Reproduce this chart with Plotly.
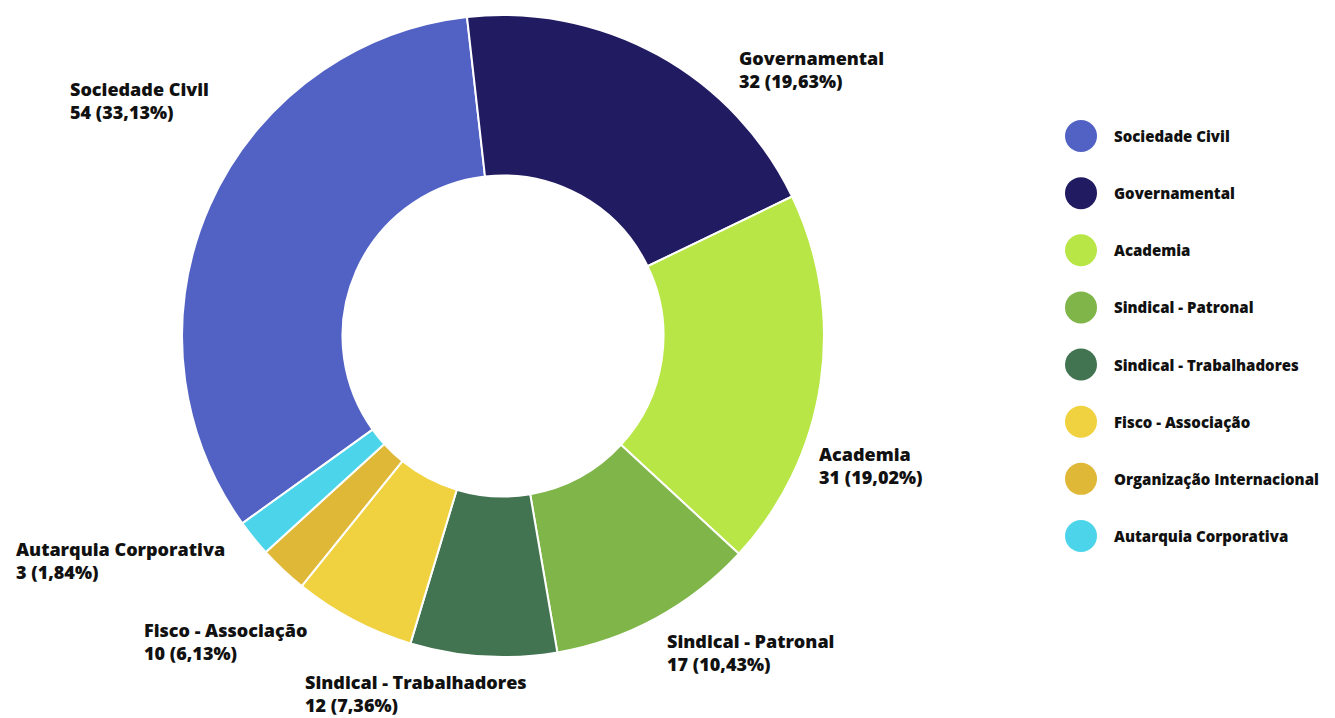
import plotly.graph_objects as go

# Participantes por segmento
categorias = [
    "Sociedade Civil",
    "Governamental",
    "Academia",
    "Sindical - Patronal",
    "Sindical - Trabalhadores",
    "Fisco - Associação",
    "Organização Internacional",
    "Autarquia Corporativa",
]
quantidades = [54, 32, 31, 17, 12, 10, 4, 3]
cores = ["#5262C4", "#211C62", "#B8E646", "#80B54A", "#427451", "#F0D240", "#DFB838", "#4CD5EA"]

# Label anchors (pixel coords of the left edge / block middle); None hides a label
label_pos = [
    (68, 101), (737, 69), (817, 465), (665, 652),
    (303, 693), (142, 641), None, (14, 560),
]

W, H = 1335, 718
FONT = "Open Sans"

total = sum(quantidades)


def fmt_pct(v):
    return f"{v / total * 100:.2f}".replace(".", ",")


fig = go.Figure()

fig.add_trace(go.Pie(
    labels=categorias,
    values=quantidades,
    marker=dict(colors=cores, line=dict(color="white", width=2)),
    hole=0.5,
    sort=False,
    direction="clockwise",
    rotation=234.3,
    textinfo="none",
    hoverinfo="label+value+percent",
    showlegend=False,
    domain=dict(x=[(503 - 321) / W, (503 + 321) / W], y=[(H - 336 - 321) / H, (H - 336 + 321) / H]),
))

annotations = []
for cat, val, pos in zip(categorias, quantidades, label_pos):
    if pos is None:
        continue
    px, py = pos
    annotations.append(dict(
        x=px / W, y=1 - py / H, xref="paper", yref="paper",
        xanchor="left", yanchor="middle", align="left", showarrow=False,
        text=f"{cat}<br>{val} ({fmt_pct(val)}%)",
        font=dict(family=FONT, size=18, color="#111111", weight=800),
    ))

# Custom legend: big circle markers plus names
idx = list(range(len(categorias)))
step = 57.14
y_top = 136
fig.add_trace(go.Scatter(
    x=[0] * len(categorias), y=idx, mode="markers",
    marker=dict(size=32, color=cores, line=dict(width=0)),
    text=categorias, hoverinfo="text", showlegend=False,
    xaxis="x2", yaxis="y2",
))
for i, cat in enumerate(categorias):
    annotations.append(dict(
        x=31, y=i, xref="x2", yref="y2",
        xanchor="left", yanchor="middle", showarrow=False,
        text=cat,
        font=dict(family=FONT, size=15, color="#111111", weight=800),
    ))

fig.update_layout(
    width=W, height=H,
    margin=dict(l=0, r=0, t=0, b=0),
    paper_bgcolor="white", plot_bgcolor="white",
    annotations=annotations,
    xaxis2=dict(domain=[0, 1], range=[-1081, W - 1081], visible=False, fixedrange=True),
    yaxis2=dict(domain=[0, 1], range=[(H - y_top) / step, -y_top / step], visible=False, fixedrange=True),
)

fig.write_html("out.html")
